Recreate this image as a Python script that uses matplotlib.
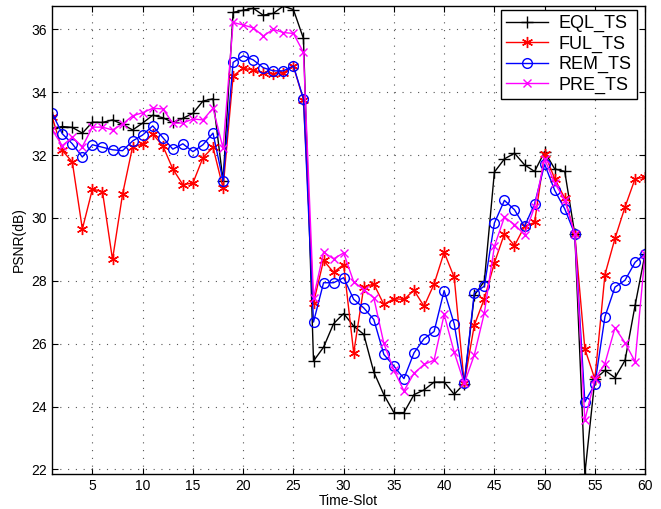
import matplotlib.pyplot as plt
import numpy as np

# time slots 1..60
slots = np.arange(1, 61)

eql_ts = [32.85, 32.91, 32.88, 32.70, 33.05, 33.04, 33.12, 32.98, 32.80, 33.02,
          33.27, 33.19, 33.04, 33.17, 33.33, 33.72, 33.79, 31.18, 36.54, 36.61,
          36.67, 36.45, 36.51, 36.74, 36.63, 35.71, 25.45, 25.89, 26.64, 26.96,
          26.56, 26.30, 25.10, 24.38, 23.81, 23.81, 24.38, 24.53, 24.78, 24.78,
          24.39, 24.73, 27.54, 27.99, 31.46, 31.88, 32.06, 31.69, 31.48, 32.11,
          31.56, 31.48, 29.49, 21.86, 24.87, 25.15, 24.92, 25.47, 27.22, 28.87]

ful_ts = [33.21, 32.15, 31.78, 29.65, 30.92, 30.84, 28.68, 30.76, 32.27, 32.35,
          32.67, 32.30, 31.56, 31.06, 31.11, 31.92, 32.25, 30.95, 34.52, 34.76,
          34.71, 34.62, 34.58, 34.62, 34.83, 33.76, 27.30, 28.65, 28.27, 28.52,
          25.71, 27.80, 27.90, 27.25, 27.43, 27.41, 27.70, 27.19, 27.90, 28.91,
          28.11, 24.74, 26.59, 27.43, 28.57, 29.50, 29.12, 29.73, 29.86, 32.05,
          31.25, 30.63, 29.49, 25.84, 24.87, 28.20, 29.35, 30.35, 31.25, 31.30]

rem_ts = [33.33, 32.68, 32.36, 31.94, 32.33, 32.25, 32.17, 32.14, 32.45, 32.64,
          32.93, 32.56, 32.19, 32.36, 32.11, 32.33, 32.70, 31.18, 34.95, 35.16,
          35.03, 34.78, 34.68, 34.68, 34.84, 33.79, 26.69, 27.94, 27.94, 28.10,
          27.41, 27.14, 26.77, 25.66, 25.29, 24.89, 25.71, 26.16, 26.39, 27.69,
          26.63, 24.74, 27.62, 27.83, 29.84, 30.56, 30.26, 29.73, 30.45, 31.71,
          30.88, 30.29, 29.49, 24.15, 24.71, 26.86, 27.80, 28.02, 28.59, 28.87]

pre_ts = [32.80, 32.30, 32.57, 32.27, 32.89, 32.89, 32.80, 32.99, 33.25, 33.35,
          33.49, 33.47, 33.02, 33.02, 33.15, 33.12, 33.49, 32.22, 36.22, 36.14,
          36.05, 35.79, 36.00, 35.90, 35.87, 35.27, 27.46, 28.91, 28.70, 28.89,
          27.97, 27.72, 27.46, 26.01, 25.16, 24.50, 25.06, 25.34, 25.48, 26.93,
          25.73, 24.74, 25.64, 26.98, 29.10, 30.03, 29.79, 29.47, 30.35, 31.87,
          31.11, 30.58, 29.49, 23.57, 24.87, 25.37, 26.51, 26.03, 25.43, 28.87]

plt.rcParams['font.family'] = ['Liberation Sans', 'DejaVu Sans']

fig = plt.figure(figsize=(6.61, 5.09), dpi=100)
ax = fig.add_axes([0.079, 0.069, 0.897, 0.919])

# matlab style asterisk marker
star = (6, 2, 0)
ax.plot(slots, eql_ts, color='black', marker='+', markersize=8, lw=1, label='EQL_TS')
ax.plot(slots, ful_ts, color='red', marker=star, markersize=8, lw=1, label='FUL_TS')
ax.plot(slots, rem_ts, color='blue', marker='o', markersize=7, mfc='none', lw=1, label='REM_TS')
ax.plot(slots, pre_ts, color='magenta', marker='x', markersize=6, lw=1, label='PRE_TS')

ax.set_xlim(1, 60)
ax.set_ylim(21.86, 36.74)
ax.set_xticks(range(5, 61, 5))
ax.set_yticks(range(22, 37, 2))
ax.tick_params(direction='in', top=True, right=True, labelsize=10, length=4)
ax.grid(True, linestyle=(0, (1, 6)), color='#555555', lw=0.8)
for s in ax.spines.values():
    s.set_linewidth(1)

ax.set_xlabel('Time-Slot', fontsize=10, labelpad=1)
ax.set_ylabel('PSNR(dB)', fontsize=10, labelpad=4)

leg = ax.legend(loc='upper right', bbox_to_anchor=(0.986, 0.9915), borderaxespad=0,
                fontsize=13, fancybox=False, framealpha=1, edgecolor='black',
                handlelength=2.3, handletextpad=0.6, labelspacing=0.18, borderpad=0.28)
leg.get_frame().set_linewidth(1)

plt.savefig('out.png', dpi=100)
